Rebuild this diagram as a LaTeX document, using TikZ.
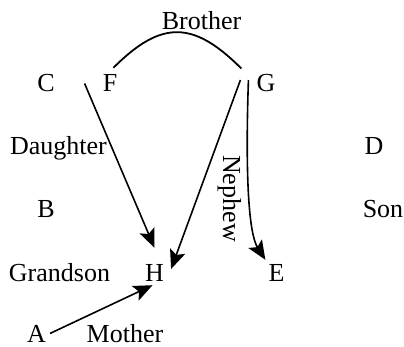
\documentclass[tikz,border=0pt]{standalone}
\usepackage{fontspec}
\setmainfont{Liberation Serif}
\usetikzlibrary{arrows.meta}
\begin{document}
\begin{tikzpicture}[x=1pt,y=-1pt,
    lbl/.style={inner sep=0pt,anchor=base,font=\fontsize{26}{30}\selectfont},
    rel/.style={line width=1.6pt,-{Stealth[length=19pt,width=16pt,inset=4pt]}},
    bro/.style={line width=1.8pt}
]
    \useasboundingbox (0,0) rectangle (404,347);

    % people
    \node[lbl] (c) at (46,92) {C};
    \node[lbl] (f) at (110,92) {F};
    \node[lbl] (g) at (266,92) {G};
    \node[lbl] (b) at (46,218) {B};
    \node[lbl] (d) at (374,155) {D};
    \node[lbl] (h) at (154.5,281) {H};
    \node[lbl] (e) at (276.5,281) {E};
    \node[lbl] (a) at (36.5,342) {A};

    % relations
    \node[lbl] (brother) at (201.5,30) {Brother};
    \node[lbl] (daughter) at (58.5,155) {Daughter};
    \node[lbl] (son) at (383,218) {Son};
    \node[lbl] (grandson) at (59.5,281) {Grandson};
    \node[lbl] (mother) at (125,342) {Mother};
    \node[lbl,rotate=-90,anchor=base west] (nephew) at (223,155) {Nephew};

    % edges
    \draw[bro] ([shift={(-4pt,7pt)}]f.north east)
        .. controls +(48,-48) and +(-48,-48) .. ([shift={(-15pt,6pt)}]g.north west);
    \draw[rel] ([xshift=-18pt]f.west) -- ([yshift=16pt]h.north);
    \draw[rel] ([shift={(-16pt,3.5pt)}]g.west) -- ([shift={(7pt,3.5pt)}]h.east);
    \draw[rel] ([shift={(-8pt,3.5pt)}]g.west)
        .. controls +(-4,120) and +(-14,-22) .. ([shift={(-3pt,4pt)}]e.north west);
    \draw[rel] ([xshift=4pt]a.east) -- ([shift={(-2pt,-4pt)}]h.south);
\end{tikzpicture}
\end{document}
